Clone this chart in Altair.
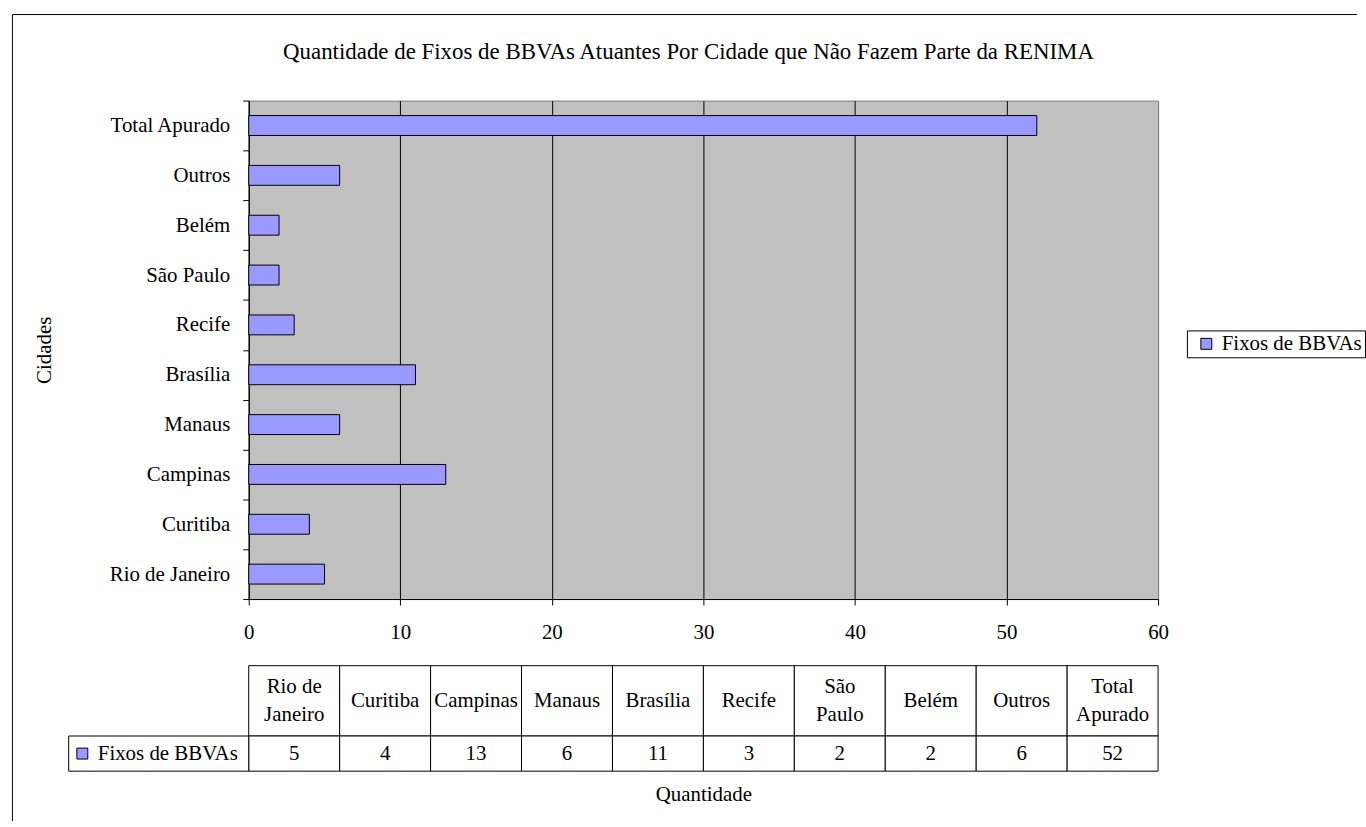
import altair as alt
import pandas as pd

# ---- data ----
cities = ["Rio de Janeiro", "Curitiba", "Campinas", "Manaus", "Brasília",
          "Recife", "São Paulo", "Belém", "Outros", "Total Apurado"]
values = [5, 4, 13, 6, 11, 3, 2, 2, 6, 52]
header_labels = ["Rio de\nJaneiro", "Curitiba", "Campinas", "Manaus", "Brasília",
                 "Recife", "São\nPaulo", "Belém", "Outros", "Total\nApurado"]
x_ticks = [0, 10, 20, 30, 40, 50, 60]
series_name = "Fixos de BBVAs"
title_text = "Quantidade de Fixos de BBVAs Atuantes Por Cidade que Não Fazem Parte da RENIMA"
y_title = "Cidades"
x_title = "Quantidade"

FONT = "Liberation Serif"
FS = 21
BAR = "#9999FF"
W, H = 914, 501
TABLE_H = 106
LINE_H = 28

# ---- main bar panel ----
bars_df = pd.DataFrame({"cidade": cities, "valor": values, "serie": series_name})

bars = alt.Chart(bars_df).mark_bar(size=20, stroke="black", strokeWidth=1).encode(
    y=alt.Y("cidade:N", sort=list(reversed(cities)),
            scale=alt.Scale(paddingInner=0, paddingOuter=0),
            axis=alt.Axis(title=y_title, tickBand="extent", tickSize=6, labelPadding=13,
                          titlePadding=55, grid=False, domainColor="black", tickColor="black")),
    x=alt.X("valor:Q", scale=alt.Scale(domain=[0, 60], nice=False),
            axis=alt.Axis(values=x_ticks, grid=True, title=None, tickSize=6, labelPadding=17,
                          labelFlush=False,
                          gridColor={"condition": {"test": "datum.value == 60", "value": "#808080"},
                                     "value": "black"},
                          domainColor="black", tickColor="black")),
    color=alt.Color("serie:N", scale=alt.Scale(range=[BAR]),
                    legend=alt.Legend(title=None, orient="none", legendX=943, legendY=231,
                                      padding=3, symbolOffset=6, strokeColor="black",
                                      fillColor="white", symbolType="square", symbolSize=121,
                                      symbolStrokeColor="black", symbolStrokeWidth=1,
                                      labelFont=FONT, labelFontSize=FS, labelColor="black",
                                      labelOffset=5)),
)

frame_df = pd.DataFrame({"k": [0]})
left_rule = alt.Chart(frame_df).mark_rule(color="black", strokeWidth=1).encode(
    x=alt.value(-237.5), y=alt.value(-86.5), y2=alt.value(724))
top_rule = alt.Chart(frame_df).mark_rule(color="black", strokeWidth=1).encode(
    x=alt.value(-237.5), x2=alt.value(1114), y=alt.value(-86.5))

panel_a = alt.layer(bars, left_rule, top_rule).properties(
    width=W, height=H,
    view=alt.ViewBackground(fill="#C0C0C0", stroke="#808080", strokeWidth=1))

# ---- data table panel ----
n = len(cities)
row_unit = TABLE_H / 3.0
cells = []
for i in range(n):
    cells.append({"x0": i, "x1": i + 1, "y0": 0, "y1": 2})
    cells.append({"x0": i, "x1": i + 1, "y0": 2, "y1": 3})
cells.append({"x0": -1.98, "x1": 0, "y0": 2, "y1": 3})
cells_df = pd.DataFrame(cells)

hdr_y = [1 - (lbl.count("\n") * LINE_H / 2.0) / row_unit for lbl in header_labels]
hdr_df = pd.DataFrame({"xc": [i + 0.5 for i in range(n)], "yc": hdr_y, "label": header_labels})
val_df = pd.DataFrame({"xc": [i + 0.5 for i in range(n)], "yc": [2.5] * n,
                       "label": [str(v) for v in values]})
leg_df = pd.DataFrame({"xs": [-1.83], "xt": [-1.66], "yc": [2.5], "label": [series_name]})

xsc = alt.Scale(domain=[0, 10], nice=False, zero=False)
ysc = alt.Scale(domain=[0, 3], reverse=True, nice=False, zero=False)

rects = alt.Chart(cells_df).mark_rect(fill="white", stroke="black", strokeWidth=1, clip=False).encode(
    x=alt.X("x0:Q", scale=xsc,
            axis=alt.Axis(labels=False, ticks=False, domain=False, grid=False, title=x_title,
                          titlePadding=12, minExtent=0)),
    x2="x1:Q",
    y=alt.Y("y0:Q", scale=ysc, axis=None),
    y2="y1:Q",
)
hdr_text = alt.Chart(hdr_df).mark_text(font=FONT, fontSize=FS, color="black", lineBreak="\n",
                                       lineHeight=LINE_H, baseline="middle", align="center").encode(
    x=alt.X("xc:Q", scale=xsc), y=alt.Y("yc:Q", scale=ysc, axis=None), text="label:N")
val_text = alt.Chart(val_df).mark_text(font=FONT, fontSize=FS, color="black",
                                       baseline="middle", align="center").encode(
    x=alt.X("xc:Q", scale=xsc), y=alt.Y("yc:Q", scale=ysc, axis=None), text="label:N")
leg_sq = alt.Chart(leg_df).mark_point(shape="square", filled=True, fill=BAR, stroke="black",
                                      strokeWidth=1, size=121, opacity=1, clip=False).encode(
    x=alt.X("xs:Q", scale=xsc), y=alt.Y("yc:Q", scale=ysc, axis=None))
leg_text = alt.Chart(leg_df).mark_text(font=FONT, fontSize=FS, color="black",
                                       baseline="middle", align="left", clip=False).encode(
    x=alt.X("xt:Q", scale=xsc), y=alt.Y("yc:Q", scale=ysc, axis=None), text="label:N")

panel_b = alt.layer(rects, hdr_text, val_text, leg_sq, leg_text).properties(width=W, height=TABLE_H)

chart = alt.vconcat(panel_a, panel_b, spacing=67, bounds="flush").properties(
    title=alt.TitleParams(title_text, font=FONT, fontSize=23, fontWeight="normal", color="black",
                          anchor="middle", frame="bounds", offset=-51),
    padding={"left": 11, "top": 11, "right": 0, "bottom": 0},
    background="white",
).configure_axis(
    labelFont=FONT, titleFont=FONT, labelFontSize=FS, titleFontSize=FS,
    labelColor="black", titleColor="black", titleFontWeight="normal",
).configure_view(strokeWidth=0)

chart.save("out.html", embed_options={"renderer": "svg", "actions": False})
